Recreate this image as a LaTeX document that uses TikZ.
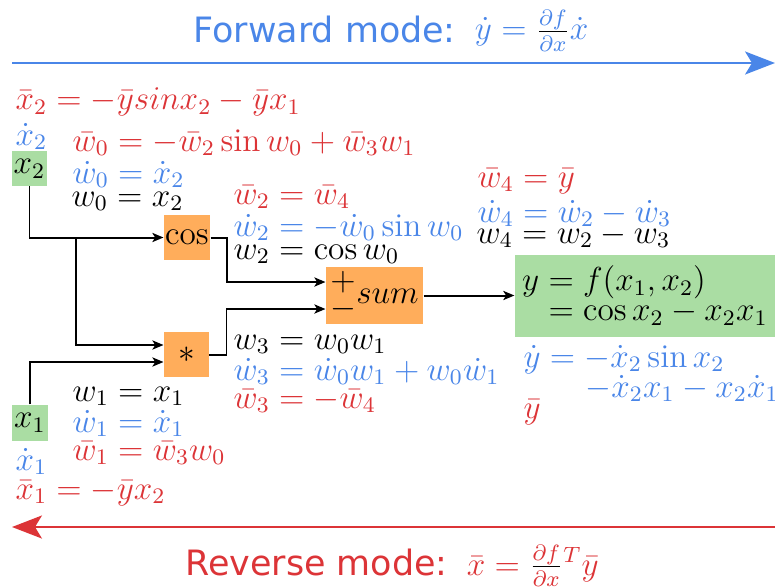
\documentclass[tikz,border=0pt]{standalone}
\usepackage{fontspec}
\newfontfamily\titlefont{DejaVu Sans}
\usetikzlibrary{arrows.meta,calc}
\definecolor{fwd}{RGB}{74,134,232}
\definecolor{rev}{RGB}{220,52,55}
\definecolor{gfill}{RGB}{170,221,163}
\definecolor{ofill}{RGB}{255,173,91}
\begin{document}
\begin{tikzpicture}[x=0.361pt,y=-0.361pt,
  txt/.style={anchor=base west, inner sep=0pt, font=\fontsize{12}{14}\selectfont},
  fw/.style={txt, text=fwd},
  rv/.style={txt, text=rev},
  bk/.style={txt, text=black},
  gbox/.style={fill=gfill, inner sep=0pt, font=\fontsize{12}{14}\selectfont},
  obox/.style={fill=ofill, inner sep=0pt, font=\fontsize{12}{14}\selectfont},
  wire/.style={line width=0.72pt, -{Stealth[length=4pt,width=3.3pt,inset=1pt]}},
  big/.style={line width=0.8pt, -{Stealth[length=10.8pt,width=8.3pt,inset=2.5pt]}},
  title/.style={anchor=base west, inner sep=0pt, font=\titlefont\fontsize{12.6}{15}\selectfont}]
\useasboundingbox (0,0) rectangle (775,586);

% titles and direction arrows
\node[title, text=fwd] (ftitle) at (193,43) {Forward mode:\hspace{0.55em}\fontsize{11.6}{13}\selectfont\raisebox{1.1pt}{$\dot y = {\color{black}\frac{\color{fwd}\partial f}{\color{fwd}\partial x}}\dot x$}};
\coordinate (fL) at (12,63);
\coordinate (fR) at (775,63);
\draw[big, fwd] (fL) -- (fR);

\node[title, text=rev] (rtitle) at (185,575) {Reverse mode:\hspace{0.55em}\fontsize{11.6}{13}\selectfont$\bar x = {\color{black}\frac{\color{rev}\partial f}{\color{rev}\partial x}}^{T}\bar y$};
\coordinate (rR) at (775,527);
\coordinate (rL) at (12,527);
\draw[big, rev] (rR) -- (rL);

% x2 column
\node[rv] (x2bar) at (15,110) {$\bar x_2 = -\bar y sin x_2 - \bar y x_1$};
\node[fw] (x2dot) at (15,145) {$\dot x_2$};
\node[gbox, minimum width=12.6pt, minimum height=12.3pt] (x2) at (29.5,168.5) {$x_2$};
\node[rv] (w0bar) at (72,151) {$\bar w_0 = -\bar w_2 \sin w_0 + \bar w_3 w_1$};
\node[fw] (w0dot) at (72,183) {$\dot w_0 = \dot x_2$};
\node[bk] (w0) at (71,206) {$w_0 = x_2$};

% cos
\node[rv] (w2bar) at (233,204) {$\bar w_2 = \bar w_4$};
\node[fw] (w2dot) at (233,236) {$\dot w_2 = -\dot w_0 \sin w_0$};
\node[bk] (w2) at (233,259) {$w_2 = \cos w_0$};
\node[obox, minimum width=16.6pt, minimum height=16.2pt] (cos) at (187,237.5) {$\cos$};

% mult
\node[obox, minimum width=16.2pt, minimum height=16.2pt] (mul) at (186.5,354.5) {$*$};
\node[bk] (w3) at (233,349) {$w_3 = w_0 w_1$};
\node[fw] (w3dot) at (233,380) {$\dot w_3 = \dot w_0 w_1 + w_0 \dot w_1$};
\node[rv] (w3bar) at (233,408) {$\bar w_3 = -\bar w_4$};

% sum
\node[obox, minimum width=35pt, minimum height=20.6pt] (sum) at (374.5,295.5)
  {$\vcenter{\offinterlineskip\hbox{$+$}\kern1.7pt\hbox{$-$}}sum$};
\node[rv] (w4bar) at (477,187) {$\bar w_4 = \bar y$};
\node[fw] (w4dot) at (477,222) {$\dot w_4 = \dot w_2 - \dot w_3$};
\node[bk] (w4) at (476,243) {$w_4 = w_2 - w_3$};

% output
\node[gbox, minimum width=93.9pt, minimum height=29.6pt] (y) at (645,296)
  {\vbox{\baselineskip=10.8pt\lineskiplimit=-20pt
   \hbox{$y = f(x_1, x_2)$}
   \hbox{$\phantom{y}= \cos x_2 - x_2 x_1$}}};
\node[fw] (ydot1) at (523,367) {$\dot y = -\dot x_2 \sin x_2$};
\node[fw] (ydot2) at (585,397) {$-\dot x_2 x_1 - x_2 \dot x_1$};
\node[rv] (ybar) at (523,418) {$\bar y$};

% x1 column
\node[bk] (w1) at (72,401) {$w_1 = x_1$};
\node[fw] (w1dot) at (72,432) {$\dot w_1 = \dot x_1$};
\node[rv] (w1bar) at (72,460) {$\bar w_1 = \bar w_3 w_0$};
\node[gbox, minimum width=13pt, minimum height=13pt] (x1) at (30,423) {$x_1$};
\node[fw] (x1dot) at (15,470) {$\dot x_1$};
\node[rv] (x1bar) at (15,499) {$\bar x_1 = -\bar y x_2$};

% connectors
\draw[wire] (x2.south) |- (cos.west);
\draw[wire] (x2.south |- cos.west) ++(46.5,0) |- ($(mul.west)+(0,-9.5)$);
\draw[wire] (x1.north) |- ($(mul.west)+(0,7.5)$);
\draw[wire] (cos.east) -- ++(16,0) |- ($(sum.west)+(0,-13.5)$);
\draw[wire] (mul.east) -- ++(17,0) |- ($(sum.west)+(0,13.5)$);
\draw[wire] (sum.east) -- (sum.east -| y.west);
\end{tikzpicture}
\end{document}
